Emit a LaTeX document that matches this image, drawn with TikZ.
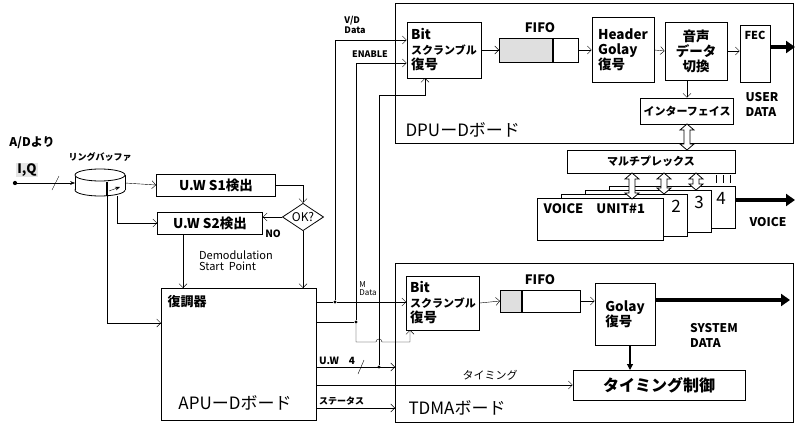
\documentclass[tikz,border=0pt]{standalone}
\usepackage{fontspec}
\setmainfont{Noto Sans CJK JP}
\usetikzlibrary{arrows.meta, calc, positioning, shapes.geometric}
\tikzset{
  box/.style={draw, thick, fill=white, inner sep=3pt, align=left, font=\bfseries\fontsize{13.5}{15}\selectfont},
  board/.style={draw, thick},
  lbl/.style={font=\bfseries\fontsize{9}{10}\selectfont, align=left, inner sep=1pt},
  big/.style={font=\fontsize{17}{18}\selectfont},
  sig/.style={-{Straight Barb[length=4pt]}},
  fat/.style={line width=3.5pt, -{Triangle[length=9pt, width=12pt]}},
  dot/.style={circle, fill, inner sep=1.2pt},
}
% vertical double arrow: x, top y, bottom y
\newcommand{\vdarrow}[3]{%
  \draw[thick, fill=white] (#1-3,#2+6) -- (#1-7,#2+6) -- (#1,#2) -- (#1+7,#2+6) -- (#1+3,#2+6)
    -- (#1+3,#3-6) -- (#1+7,#3-6) -- (#1,#3) -- (#1-7,#3-6) -- (#1-3,#3-6) -- cycle;}
\begin{document}
\begin{tikzpicture}[x=1pt, y=-1pt, >=Stealth]
    \useasboundingbox (0,0) rectangle (800,425);
    % Boards
    \draw[board] (395,3) rectangle (793,143);
    \node[big, anchor=west] at (402,130) {DPUーDボード};
    \draw[board] (395,263) rectangle (793,422);
    \node[big, anchor=west] at (405,408) {TDMAボード};

    % DPU chain
    \node[box, minimum width=74pt, minimum height=56pt] (bit1) at (444,50) {Bit\\{\fontsize{11}{12}\selectfont スクランブル}\\復号};
    \node[font=\bfseries\fontsize{13}{14}\selectfont] at (540,28) {FIFO};
    \fill[gray!25] (499,38) rectangle (553,62);
    \draw[thick] (499,38) rectangle (578,62);
    \draw[very thick] (553,38) -- (553,62);
    \coordinate (fifo1w) at (499,50); \coordinate (fifo1e) at (578,50);
    \node[box, minimum width=62pt, minimum height=65pt] (hgolay) at (623,50) {Header\\Golay\\復号};
    \node[box, align=center, minimum width=62pt, minimum height=58pt] (voice) at (696,51) {音声\\データ\\切換};
    \node[box, anchor=north, minimum width=30pt, minimum height=57pt] (fec) at (755,25) {};
    \node[lbl, font=\bfseries\fontsize{11}{12}\selectfont] at (755,35) {FEC};
    \node[box, minimum width=80pt, minimum height=26pt, font=\bfseries\fontsize{11}{12}\selectfont] (iface) at (687,111) {インターフェイス};
    \node[font=\bfseries\fontsize{12}{15}\selectfont, align=left] at (762,104) {USER\\DATA};
    \draw[sig] (bit1.east) -- (fifo1w);
    \draw[sig] (fifo1e) -- (hgolay.west);
    \draw[sig] (hgolay.east) -- (voice.west);
    \draw[sig] (voice.east) -- (fec.west |- voice.east);
    \draw[fat] (fec.east |- 0,47) -- (795,47);
    \draw[sig] (voice.south -| iface.north) -- (iface.north);

    % Multiplex and voice units
    \node[box, minimum width=168pt, minimum height=23pt, font=\bfseries\fontsize{11}{12}\selectfont] (mux) at (651,161.5) {マルチプレックス};
    \vdarrow{687}{124}{150}
    \foreach \i in {3,2,1,0} {
      \draw[thick, fill=white] ({537+24*\i},{198-4*\i}) rectangle ({663+24*\i},{240-4*\i});
    }
    \node[anchor=north west, font=\bfseries\fontsize{13}{14}\selectfont] at (540,200) {VOICE\quad UNIT\#1};
    \node[font=\fontsize{17}{18}\selectfont] at (676,206) {2};
    \node[font=\fontsize{17}{18}\selectfont] at (699,202) {3};
    \node[font=\fontsize{17}{18}\selectfont] at (721,198) {4};
    \vdarrow{632}{173}{199}
    \vdarrow{664}{173}{194}
    \vdarrow{696}{173}{190}
    \draw[thick] (716,175) -- (716,183) (723,175) -- (723,183) (730,175) -- (730,183);
    \draw[fat] (736,200) -- (795,200);
    \node[font=\bfseries\fontsize{12}{13}\selectfont] at (768,222) {VOICE};

    % Input and ring buffer
    \node[font=\bfseries\fontsize{12}{13}\selectfont] at (32,143) {A/Dより};
    \node[fill=gray!20, font=\bfseries\fontsize{13}{14}\selectfont, inner sep=1pt] at (27,170) {I,Q};
    \node[dot, inner sep=1.5pt] (iq) at (15,183) {};
    \draw[thick, fill=white] (100,190) ellipse[x radius=25, y radius=6];
    \fill[white] (75,175) rectangle (125,190);
    \draw[thick] (75,175) -- (75,190) (125,175) -- (125,190);
    \draw[thick, fill=white] (100,175) ellipse[x radius=25, y radius=6];
    \coordinate (bufw) at (75,183); \coordinate (bufe) at (125,183);
    \node[lbl] at (100,157) {リングバッファ};
    \draw[->] (iq) -- (bufw);
    \draw (52,190) -- (59,176);
    \draw[line width=2pt] (107,182) -- (107,196);
    \draw[->] (109,191) -- (120,187);

    % Unique word detection
    \node[box, minimum width=119pt, minimum height=22pt] (uws1) at (216,185) {U.W S1検出};
    \node[box, minimum width=105pt, minimum height=22pt] (uws2) at (210,223) {U.W S2検出};
    \node[diamond, draw, thick, aspect=1.5, inner sep=1pt, font=\fontsize{12}{13}\selectfont] (ok) at (303,217) {OK?};
    \node[lbl, font=\bfseries\fontsize{10}{11}\selectfont] at (273,234) {NO};
    \draw[sig] (bufe) -- (uws1.west);
    \draw[sig] (uws1.east) -| (ok.north);
    \draw[sig] (ok.west) -- (uws2.east |- ok.west);
    \draw[sig] (117,196) |- (uws2.west);

    % Demodulator
    \node[box, anchor=north west, minimum width=155pt, minimum height=132pt] (apu) at (161,288) {};
    \node[anchor=north west, font=\bfseries\fontsize{13}{14}\selectfont] at (164,292) {復調器};
    \node[big] at (235,403) {APUーDボード};
    \node[lbl, font=\fontsize{11}{11}\selectfont] at (236,261) {Demodulation\\Start\ \ Point};
    \draw[sig] (uws2.south -| 183,0) -- (183,288);
    \draw[sig] (ok.south) -- (ok.south |- apu.north);
    \draw[sig] (107,196) |- (apu.west |- 0,323);

    % TDMA chain
    \node[box, minimum width=73pt, minimum height=54pt] (bit2) at (443,303) {Bit\\{\fontsize{11}{12}\selectfont スクランブル}\\復号};
    \node[font=\bfseries\fontsize{13}{14}\selectfont] at (540,280) {FIFO};
    \fill[gray!25] (500,290) rectangle (522,312);
    \draw[thick] (500,290) rectangle (580,312);
    \draw[very thick] (522,290) -- (522,312);
    \coordinate (fifo2w) at (500,301); \coordinate (fifo2e) at (580,301);
    \node[box, minimum width=60pt, minimum height=62pt] (golay) at (625,314) {Golay\\復号};
    \node[box, minimum width=172pt, minimum height=30pt, font=\bfseries\fontsize{16}{17}\selectfont] (timing) at (659,385) {タイミング制御};
    \node[font=\bfseries\fontsize{12}{15}\selectfont, align=left] at (714,335) {SYSTEM\\DATA};
    \draw[sig] (bit2.east) -- (fifo2w);
    \draw[sig] (fifo2e) -- (golay.west |- fifo2e);
    \draw[fat] (golay.east |- 0,300) -- (790,300);
    \draw[very thick, -{Triangle[length=6pt, width=6pt]}] (golay.south -| 630,0) -- (630,370);

    % Lines from the demodulator
    \node[dot] (d1) at (335,302) {};
    \node[dot] (d2) at (356,322) {};
    \node[dot] (d3) at (379,367) {};
    \draw (apu.east |- d1) -- (d1);
    \draw[sig] (d1) -- (bit2.west |- d1);
    \draw[sig] (d1) |- (bit1.west |- 0,40);
    \node[lbl] at (355,25) {V/D\\Data};
    \draw (apu.east |- d2) -- (d2);
    \draw[sig] (d2) |- (bit1.west |- 0,63);
    \node[lbl] at (370,54) {ENABLE};
    \draw[sig] (d2) -- (356,342) -- (376,342) arc[start angle=180, end angle=360, radius=3] -- (410,342) -- (410,330);
    \node[lbl, font=\fontsize{8}{8}\selectfont] at (368,289) {M\\Data};
    \draw[sig] (d3) -- (379,95) -| (425,78);
    \draw[sig] (apu.east |- d3) -- (395,367);
    \draw (358,374) -- (364,360);
    \node[lbl, font=\bfseries\fontsize{10}{11}\selectfont, anchor=south west] at (318,366) {U.W\quad 4};
    \draw[sig] (apu.east |- 0,385) -- (timing.west);
    \node[lbl, font=\fontsize{11}{12}\selectfont] at (490,375) {タイミング};
    \draw[sig] (apu.east |- 0,408) -- (395,408);
    \node[lbl, anchor=south west] at (318,406) {ステータス};
\end{tikzpicture}
\end{document}
